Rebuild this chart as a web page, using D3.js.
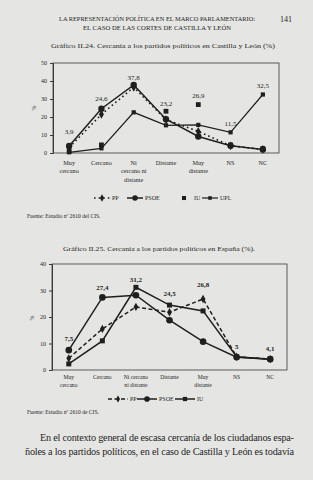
<!DOCTYPE html>
<html>
<head>
<meta charset="utf-8">
<script src="https://cdn.jsdelivr.net/npm/d3@7"></script>
<style>
  body { margin: 0; background: #e5e5e3; }
  text { font-family: "Liberation Serif", "DejaVu Serif", serif; fill: #262626; }
</style>
</head>
<body>
<svg id="page" width="313" height="480"></svg>
<script>
// --- data: Castilla y León (Gráfico II.24)
var cats1 = [["Muy", "cercano"], ["Cercano"], ["Ni", "cercano ni", "distante"], ["Distante"], ["Muy", "distante"], ["NS"], ["NC"]];
var pp1   = [3.0, 21.5, 36.5, 18.5, 12.0, 4.0, 2.0];
var psoe1 = [3.9, 24.6, 37.8, 18.8, 9.2, 4.0, 2.0];
var iu1   = [1.0, 4.5, 37.5, 23.2, 26.9, 4.5, 2.5];
var upl1  = [0.4, 2.6, 22.6, 15.4, 15.6, 11.5, 32.5];
var ticks1 = [0, 10, 20, 30, 40, 50];

// --- data: España (Gráfico II.25)
var cats2 = [["Muy", "cercano"], ["Cercano"], ["Ni cercano", "ni distante"], ["Distante"], ["Muy", "distante"], ["NS"], ["NC"]];
var pp2   = [4.4, 15.5, 23.8, 21.8, 26.8, 5.0, 4.1];
var psoe2 = [7.5, 27.4, 28.2, 18.8, 10.7, 4.8, 4.1];
var iu2   = [2.3, 11.0, 31.2, 24.5, 22.3, 5.0, 4.1];
var ticks2 = [0, 10, 20, 30, 40];

var svg = d3.select("#page");
var ink = "#1f1f1f";

function fmt(v) { return String(v).replace(".", ","); }

function marker(g, kind, x, y, s) {
  if (kind == "circle") {
    g.append("circle").attr("cx", x).attr("cy", y).attr("r", s).attr("fill", ink);
  } else if (kind == "square") {
    g.append("rect").attr("x", x - s).attr("y", y - s).attr("width", 2 * s).attr("height", 2 * s).attr("fill", ink);
  } else {
    g.append("path").attr("d", d3.symbol().type(d3.symbolDiamond).size(s * s * 3.2)())
      .attr("transform", "translate(" + x + "," + y + ")").attr("fill", ink);
  }
}

function drawChart(c) {
  var g = svg.append("g");
  var x = d3.scaleBand().domain(d3.range(c.cats.length)).range([c.left, c.right]);
  var y = d3.scaleLinear().domain([0, c.ymax]).range([c.bottom, c.top]);
  var cx = function (i) { return x(i) + x.bandwidth() / 2; };

  g.append("rect").attr("x", c.left).attr("y", c.top)
    .attr("width", c.right - c.left).attr("height", c.bottom - c.top)
    .attr("fill", "none").attr("stroke", "#3a3a3a").attr("stroke-width", 0.8);

  var ax = g.append("g").attr("transform", "translate(" + c.left + ",0)")
    .call(d3.axisLeft(y).tickValues(c.ticks).tickSize(3).tickPadding(3));
  ax.select(".domain").attr("stroke", "#3a3a3a");
  ax.selectAll("line").attr("stroke", "#3a3a3a");
  ax.selectAll("text").attr("font-family", "Liberation Serif").attr("font-size", c.tickSize).attr("fill", "#333");

  g.append("text").attr("transform", "translate(" + c.pctX + "," + c.pctY + ") rotate(-90)")
    .attr("text-anchor", "middle").attr("font-size", 6).text("%");

  // category labels
  c.cats.forEach(function (lines, i) {
    lines.forEach(function (t, k) {
      g.append("text").attr("x", cx(i)).attr("y", c.bottom + c.catY + k * c.catGap)
        .attr("text-anchor", "middle").attr("font-size", c.catSize).text(t);
    });
  });

  // series
  c.series.forEach(function (s) {
    if (s.line) {
      g.append("path").datum(s.values)
        .attr("d", d3.line().x(function (d, i) { return cx(i); }).y(function (d) { return y(d); }))
        .attr("fill", "none").attr("stroke", ink).attr("stroke-width", s.width)
        .attr("stroke-dasharray", s.dash || null);
    }
    s.values.forEach(function (v, i) { marker(g, s.mark, cx(i), y(v), s.size); });
  });

  // value labels on the highest point of each category
  c.cats.forEach(function (l, i) {
    var m = d3.max(c.series, function (s) { return s.values[i]; });
    g.append("text").attr("x", cx(i)).attr("y", y(m) - c.lift[i])
      .attr("text-anchor", "middle").attr("font-size", c.labelSize)
      .attr("font-weight", c.labelWeight).text(fmt(m));
  });

  // legend
  var lg = g.append("g").attr("transform", "translate(0," + c.legendY + ")");
  c.series.forEach(function (s, k) {
    var p = c.legendX[k];
    if (s.line) {
      lg.append("line").attr("x1", p).attr("x2", p + c.legendLen).attr("stroke", ink)
        .attr("stroke-width", s.width).attr("stroke-dasharray", s.dash || null);
    }
    marker(lg, s.mark, p + c.legendLen / 2, 0, s.size * 0.85);
    lg.append("text").attr("x", p + c.legendLen + 2).attr("y", 2.2)
      .attr("font-size", 6).text(s.name);
  });

  g.append("text").attr("x", 27).attr("y", c.sourceY).attr("font-size", 5.6).text(c.source);
}

// page header
svg.append("text").attr("x", 157).attr("y", 21).attr("text-anchor", "middle")
  .attr("font-size", 6).attr("textLength", 196).attr("lengthAdjust", "spacingAndGlyphs")
  .text("LA REPRESENTACIÓN POLÍTICA EN EL MARCO PARLAMENTARIO:");
svg.append("text").attr("x", 157).attr("y", 30).attr("text-anchor", "middle")
  .attr("font-size", 6).attr("textLength", 148).attr("lengthAdjust", "spacingAndGlyphs")
  .text("EL CASO DE LAS CORTES DE CASTILLA Y LEÓN");
svg.append("text").attr("x", 292).attr("y", 22).attr("text-anchor", "end")
  .attr("font-size", 8).text("141");

svg.append("text").attr("x", 163).attr("y", 48).attr("text-anchor", "middle")
  .attr("font-size", 6.8).attr("textLength", 224).attr("lengthAdjust", "spacingAndGlyphs")
  .text("Gráfico II.24. Cercanía a los partidos políticos en Castilla y León (%)");

drawChart({
  cats: cats1, ymax: 50, ticks: ticks1,
  left: 53, right: 279, top: 63, bottom: 153,
  tickSize: 6, pctX: 36, pctY: 108,
  catY: 12, catGap: 8.3, catSize: 6.2,
  labelSize: 7, labelWeight: "normal",
  lift: [12, 8, 5, 5, 7, 6, 7],
  series: [
    { name: "PP", values: pp1, line: true, dash: "1.6,3", width: 1.6, mark: "diamond", size: 2.6 },
    { name: "PSOE", values: psoe1, line: true, width: 1.5, mark: "circle", size: 3.2 },
    { name: "IU", values: iu1, line: false, mark: "square", size: 2.4 },
    { name: "UPL", values: upl1, line: true, width: 1.2, mark: "square", size: 2.1 }
  ],
  legendY: 198, legendX: [94, 127, 176, 202], legendLen: 16,
  sourceY: 218, source: "Fuente: Estudio nº 2610 del CIS."
});

svg.append("text").attr("x", 159).attr("y", 251).attr("text-anchor", "middle")
  .attr("font-size", 6.6).attr("textLength", 192).attr("lengthAdjust", "spacingAndGlyphs")
  .text("Gráfico II.25. Cercanía a los partidos políticos en España (%).");

drawChart({
  cats: cats2, ymax: 40, ticks: ticks2,
  left: 52, right: 287, top: 264, bottom: 370,
  tickSize: 6, pctX: 34, pctY: 318,
  catY: 9, catGap: 7.5, catSize: 5.6,
  labelSize: 7, labelWeight: "bold",
  lift: [9, 7, 5, 9, 12, 8, 8],
  series: [
    { name: "PP", values: pp2, line: true, dash: "4,2.5", width: 1.5, mark: "diamond", size: 2.5 },
    { name: "PSOE", values: psoe2, line: true, width: 1.5, mark: "circle", size: 3.3 },
    { name: "IU", values: iu2, line: true, width: 1.5, mark: "square", size: 2.5 }
  ],
  legendY: 399, legendX: [108, 137, 175], legendLen: 20,
  sourceY: 414, source: "Fuente: Estudio nº 2610 de CIS."
});

// body text
svg.append("text").attr("x", 40).attr("y", 441).attr("font-size", 10.2)
  .attr("textLength", 254).attr("lengthAdjust", "spacing")
  .text("En el contexto general de escasa cercanía de los ciudadanos espa-");
svg.append("text").attr("x", 25).attr("y", 455).attr("font-size", 10.2)
  .attr("textLength", 269).attr("lengthAdjust", "spacing")
  .text("ñoles a los partidos políticos, en el caso de Castilla y León es todavía");
</script>
</body>
</html>
